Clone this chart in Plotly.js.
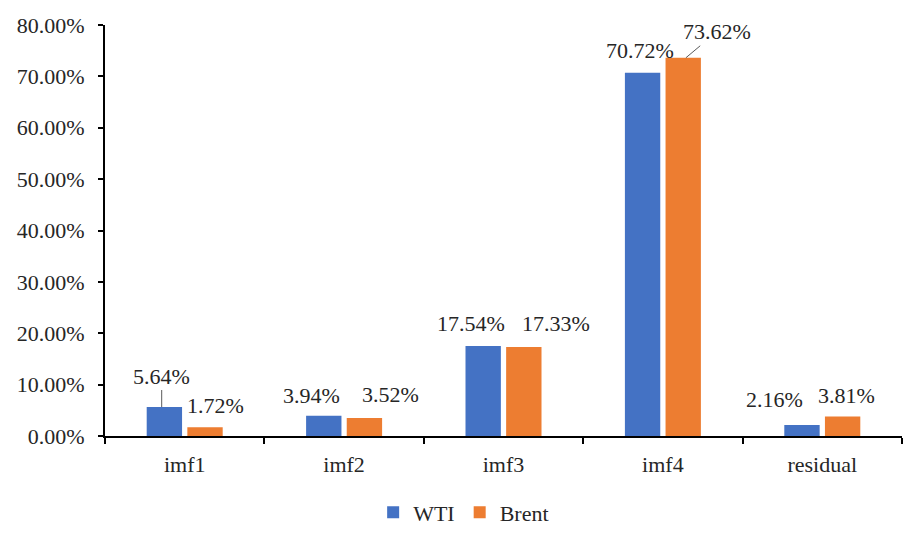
<!DOCTYPE html>
<html>
<head>
<meta charset="utf-8">
<script src="https://cdn.plot.ly/plotly-3.0.1.min.js"></script>
<style>
  html, body { margin: 0; padding: 0; background: #fff; }
  #chart { width: 910px; height: 541px; }
</style>
</head>
<body>
<div id="chart"></div>
<script>
// Chart data (percent of variance)
const categories = ['imf1', 'imf2', 'imf3', 'imf4', 'residual'];
const wtiValues = [5.64, 3.94, 17.54, 70.72, 2.16];
const brentValues = [1.72, 3.52, 17.33, 73.62, 3.81];

const blue = '#4472C4';
const orange = '#ED7D31';
const textColor = '#262626';
const fontFamily = 'Liberation Serif';

// label offsets from each category centre / bar top, in pixels
const wtiShift = [[-23, 31], [-33, 20], [-33, 22], [-23, 22], [-48, 25]];
const brentShift = [[31, 22], [46, 23], [52, 23], [23, 0], [24, 21]];

var wtiTrace = {
  x: categories,
  y: wtiValues,
  name: 'WTI',
  type: 'bar',
  marker: { color: blue },
};
var brentTrace = {
  x: categories,
  y: brentValues,
  name: 'Brent',
  type: 'bar',
  marker: { color: orange },
};

// Data labels, placed like the original (some with leader lines)
var annotations = [];
categories.forEach((cat, i) => {
  var w = {
    x: cat, y: wtiValues[i], xref: 'x', yref: 'y',
    text: wtiValues[i].toFixed(2) + '%',
    showarrow: false,
    xshift: wtiShift[i][0], yshift: wtiShift[i][1],
    yanchor: 'middle',
  };
  if (i === 0) {
    // leader line straight down to the bar
    w.showarrow = true;
    w.arrowhead = 0;
    w.arrowwidth = 1;
    w.arrowcolor = '#595959';
    w.ax = 0;
    w.ay = -wtiShift[i][1];
    w.yshift = 0;
    w.standoff = 0;
  }
  annotations.push(w);

  var b = {
    x: cat, y: brentValues[i], xref: 'x', yref: 'y',
    text: brentValues[i].toFixed(2) + '%',
    showarrow: false,
    xshift: brentShift[i][0], yshift: brentShift[i][1],
    yanchor: 'middle',
  };
  if (i === 3) {
    b.showarrow = true;
    b.arrowhead = 0;
    b.arrowwidth = 1;
    b.arrowcolor = '#595959';
    b.ax = 31;
    b.ay = -26;
    b.standoff = 0;
  }
  annotations.push(b);
});

var layout = {
  width: 910,
  height: 541,
  margin: { l: 105, r: 8, t: 25, b: 97 },
  paper_bgcolor: '#fff',
  plot_bgcolor: '#fff',
  font: { family: fontFamily, size: 22, color: textColor },
  barmode: 'group',
  bargap: 0.49,
  bargroupgap: 0.13,
  showlegend: true,
  legend: {
    orientation: 'h',
    x: 0.45,
    xanchor: 'center',
    y: -0.186,
    yanchor: 'middle',
    font: { family: fontFamily, size: 22, color: textColor },
  },
  xaxis: {
    type: 'category',
    showline: true,
    linecolor: '#000',
    linewidth: 2,
    ticks: 'outside',
    tickson: 'boundaries',
    ticklen: 6,
    tickwidth: 2,
    tickcolor: '#000',
    ticklabelstandoff: 8,
    showgrid: false,
    zeroline: false,
    fixedrange: true,
  },
  yaxis: {
    range: [0, 80],
    dtick: 10,
    tickformat: '.2f',
    ticksuffix: '%',
    showline: true,
    linecolor: '#000',
    linewidth: 2,
    ticks: 'outside',
    ticklen: 5,
    tickwidth: 2,
    tickcolor: '#000',
    ticklabelstandoff: 9,
    showgrid: false,
    zeroline: false,
    fixedrange: true,
  },
  annotations: annotations,
};

var config = { displayModeBar: false, staticPlot: true };

Plotly.newPlot('chart', [wtiTrace, brentTrace], layout, config);
</script>
</body>
</html>
